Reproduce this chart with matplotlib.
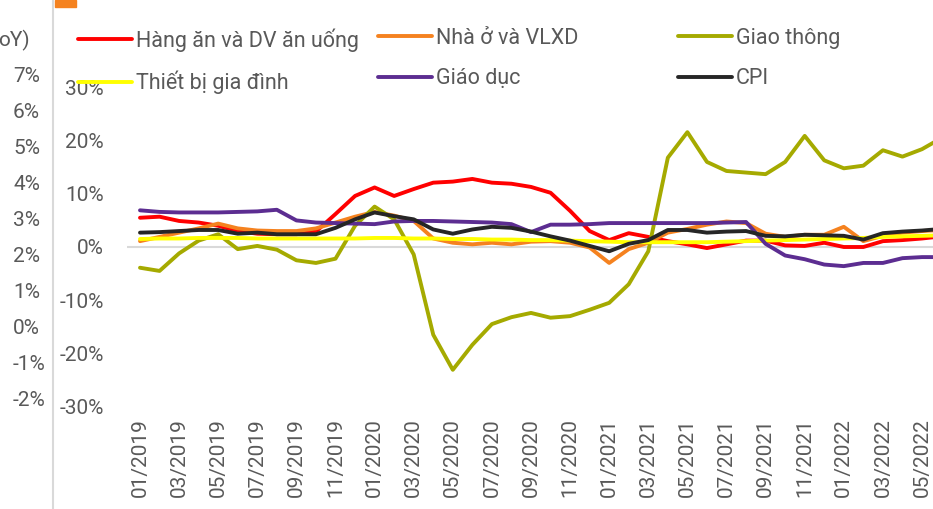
import matplotlib
matplotlib.use('Agg')
import matplotlib.pyplot as plt
import matplotlib.patches as patches
import numpy as np

plt.rcParams['font.family'] = ['Roboto', 'DejaVu Sans']

# monthly yoy change (%), 01/2019 -> 06/2022
months = ['%02d/%d' % (m, y) for y in (2019, 2020, 2021, 2022) for m in range(1, 13)][:42]

food = [5.5, 5.7, 4.9, 4.6, 4.0, 3.0, 2.5, 2.4, 2.4, 2.9, 6.2, 9.6, 11.2, 9.6, 10.9, 12.1,
        12.3, 12.8, 12.1, 11.9, 11.3, 10.2, 6.8, 3.0, 1.3, 2.6, 1.9, 1.1, 0.5, -0.2, 0.5, 1.2,
        1.2, 0.3, 0.2, 0.8, 0.0, 0.0, 1.1, 1.3, 1.6, 2.0]
housing = [1.1, 1.9, 2.7, 3.5, 4.4, 3.5, 3.1, 3.0, 3.0, 3.5, 4.6, 5.7, 6.6, 5.9, 4.9, 1.6,
           0.8, 0.5, 0.8, 0.5, 1.0, 1.1, 0.8, -0.1, -3.0, -0.4, 0.8, 2.7, 3.4, 4.2, 4.8, 4.5,
           2.5, 1.9, 2.3, 2.3, 3.8, 1.1, 2.1, 2.7, 3.0, 3.2]
transport = [-3.9, -4.5, -1.2, 1.2, 2.4, -0.4, 0.2, -0.5, -2.5, -3.0, -2.2, 4.0, 7.6, 5.2, -1.4, -16.5,
             -23.1, -18.4, -14.5, -13.2, -12.4, -13.3, -13.0, -11.8, -10.5, -7.0, -0.8, 16.8, 21.6, 16.0, 14.3, 14.0,
             13.7, 16.0, 20.9, 16.3, 14.8, 15.3, 18.2, 17.0, 18.4, 20.5]
household = [1.5, 1.6, 1.6, 1.7, 1.7, 1.7, 1.6, 1.6, 1.6, 1.6, 1.6, 1.6, 1.7, 1.7, 1.6, 1.6,
             1.5, 1.5, 1.4, 1.4, 1.3, 1.3, 1.2, 1.1, 1.0, 0.9, 0.9, 0.9, 0.9, 0.9, 1.0, 1.1,
             1.2, 1.3, 1.4, 1.5, 1.6, 1.7, 1.9, 2.0, 2.1, 2.2]
education = [6.9, 6.6, 6.5, 6.5, 6.5, 6.6, 6.7, 7.0, 5.0, 4.6, 4.5, 4.4, 4.3, 4.8, 4.9, 4.9,
             4.8, 4.7, 4.6, 4.3, 2.8, 4.2, 4.2, 4.3, 4.5, 4.5, 4.5, 4.5, 4.5, 4.5, 4.6, 4.7,
             0.6, -1.6, -2.3, -3.3, -3.6, -3.0, -3.0, -2.1, -1.9, -1.9]
cpi = [2.7, 2.8, 3.0, 3.2, 3.2, 2.5, 2.7, 2.4, 2.4, 2.4, 3.6, 5.2, 6.5, 5.8, 5.2, 3.3,
       2.5, 3.3, 3.8, 3.6, 2.9, 2.0, 1.2, 0.2, -0.8, 0.6, 1.3, 3.2, 3.2, 2.7, 2.9, 3.0,
       2.1, 2.0, 2.3, 2.2, 2.1, 1.4, 2.6, 2.9, 3.1, 3.4]

names = ['Hàng ăn và DV ăn uống', 'Nhà ở và VLXD', 'Giao thông',
         'Thiết bị gia đình', 'Giáo dục', 'CPI']
series = [food, housing, transport, household, education, cpi]
colors = ['#FF0000', '#F5821F', '#A5AA00', '#FFFF00', '#5C2D91', '#262626']

left_ticks = [7, 6, 5, 4, 3, 2, 1, 0, -1, -2]

W, H = 933, 509
grey = '#595959'
fs = 15
fig = plt.figure(figsize=(W / 100, H / 100), dpi=100)

# left (cut off) axis of the neighbouring panel
ax0 = fig.add_axes([53 / W, 0, 0.001, 1])
ax0.set_ylim(-2 - 110 / 36.0, 7 + 75 / 36.0)
ax0.set_yticks(left_ticks)
ax0.set_yticklabels(['%d%%' % v for v in left_ticks], ha='left')
ax0.tick_params(axis='y', length=0, pad=40 / 1.389, labelsize=fs, labelcolor=grey)
ax0.set_xticks([])
for s in ['top', 'right', 'bottom']:
    ax0.spines[s].set_visible(False)
ax0.spines['left'].set_color('#d9d9d9')
ax0.spines['left'].set_linewidth(1.5)
ax0.patch.set_alpha(0)

fig.text(30 / W, 1 - 40 / H, 'oY)', ha='right', va='center', fontsize=fs, color=grey)
fig.patches.append(patches.Rectangle((55 / W, 1 - 7 / H), 21 / W, 7 / H,
                                     transform=fig.transFigure, color='#F5821F'))

ax = fig.add_axes([127 / W, (H - 406.5) / H, (W - 127) / W, (406.5 - 87.5) / H])
x = np.arange(len(months))
ax.axhline(0, color='#d9d9d9', lw=1.5, zorder=1)
lines = []
for name, vals, c in zip(names, series, colors):
    ln, = ax.plot(x, vals, color=c, lw=2.8, label=name, solid_capstyle='round',
                  solid_joinstyle='round', zorder=2)
    lines.append(ln)

ax.set_xlim((127 - 140) / 19.55, (933 - 140) / 19.55)
ax.set_ylim(-30, 30)
ax.set_yticks(range(-30, 31, 10))
ax.set_yticklabels(['%d%%' % v for v in range(-30, 31, 10)])
ax.set_xticks(x[::2])
ax.set_xticklabels(months[::2], rotation=90)
ax.tick_params(axis='y', length=0, pad=23 / 1.389, labelsize=fs, labelcolor=grey)
ax.tick_params(axis='x', length=0, pad=12 / 1.389, labelsize=fs, labelcolor=grey)
for s in ax.spines.values():
    s.set_visible(False)
ax.patch.set_alpha(0)

# legend: three fixed columns like the original
for i, xpos in enumerate([78, 378, 678]):
    fig.legend(handles=[lines[i], lines[i + 3]], loc='upper left',
               bbox_to_anchor=(xpos / W, 1 - 28 / H), frameon=False, ncol=1,
               fontsize=15.5, handlelength=2.5, handletextpad=0.2,
               labelspacing=0.9, borderpad=0, borderaxespad=0,
               labelcolor=grey)

fig.savefig('out.png', dpi=100)
